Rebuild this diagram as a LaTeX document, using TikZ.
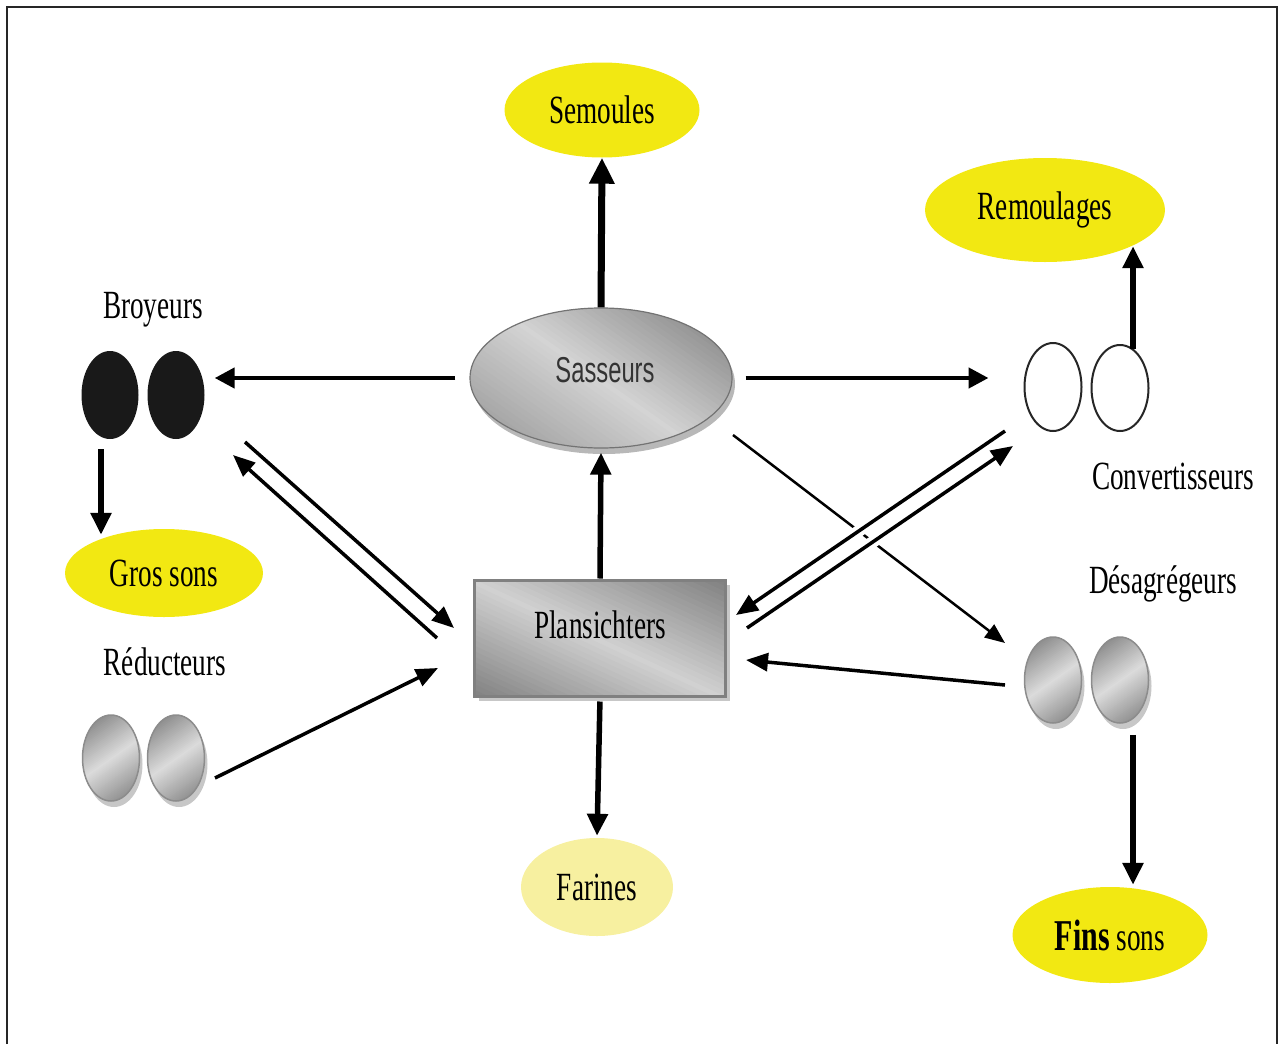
\documentclass[tikz,border=0pt]{standalone}
\usepackage{fontspec}
\setmainfont{Liberation Serif}[FakeStretch=0.68]
\newfontfamily\sasfont{Liberation Sans}[FakeStretch=0.66]
\usetikzlibrary{shapes.geometric,arrows.meta,calc}
\definecolor{ysun}{RGB}{242,232,18}
\definecolor{ypale}{RGB}{247,240,160}
% gradient strips: cx cy angle halfsize c0 cmid c1 (percent black)
\newcommand\gradstrips[7]{%
  \begin{scope}[shift={(#1,#2)}, rotate=#3]
  \foreach \k in {0,...,59}{
    \pgfmathsetmacro\gp{\k<30 ? #5+(#6-#5)*(\k/30) : #6+(#7-#6)*((\k-30)/29)}
    \pgfmathsetmacro\ya{-#4+(\k/60)*2*#4}
    \pgfmathsetmacro\yb{-#4+((\k+1)/60)*2*#4+2.5}
    \fill[black!\gp] (-#4,\ya) rectangle (#4,\yb);
  }
  \end{scope}}
\newcommand\grayroller[3]{%
  \fill[black!22] ({#2+3},{#3+6}) ellipse [x radius=28.5, y radius=43];
  \begin{scope}
    \clip (#2,#3) ellipse [x radius=28.5, y radius=43];
    \gradstrips{#2}{#3}{35}{50}{52}{14}{50}
  \end{scope}
  \node[roll, minimum height=86pt, draw=black!45, line width=1.5pt] (#1) at (#2,#3) {};}
\begin{document}
\begin{tikzpicture}[x=1pt,y=-1pt,
  font=\fontsize{40}{44}\selectfont,
  yel/.style={ellipse, fill=ysun, inner sep=0pt},
  roll/.style={ellipse, minimum width=57pt, minimum height=88pt, inner sep=0pt},
  blackroll/.style={roll, fill=black!90},
  whiteroll/.style={roll, draw=black!85, line width=2pt, fill=white},
  lab/.style={inner sep=0pt},
  bigarr/.style={line width=7pt, -{Triangle[length=26pt,width=24pt]}},
  varr/.style={line width=5.5pt, -{Triangle[length=22pt,width=20pt]}},
  harr/.style={line width=4.5pt, -{Triangle[length=20pt,width=20pt]}},
  darr/.style={line width=3.5pt, -{Triangle[length=22pt,width=18pt]}},
  tarr/.style={line width=2.5pt, -{Triangle[length=20pt,width=16pt]}}
]
\useasboundingbox (0,0) rectangle (1279,1044);
\draw[line width=2pt, black!85] (7,1044) -- (7,7) -- (1277,7) -- (1277,1044);

% output ellipses
\node[yel, minimum width=195pt, minimum height=95pt] (semo) at (602,110) {Semoules};
\node[yel, minimum width=240pt, minimum height=104pt] (remo) at (1045,210) {Remoulages};
\node[yel, minimum width=198pt, minimum height=88pt] (gros) at (164,573) {Gros sons};
\node[yel, fill=ypale, minimum width=152pt, minimum height=98pt] (fari) at (597,887) {Farines};
\node[yel, minimum width=195pt, minimum height=96pt] (fins) at (1110,935) {{\bfseries\fontsize{44}{46}\selectfont Fins} sons};

% Sasseurs (shadow, gradient, border)
\fill[black!28] (604,384) ellipse [x radius=131, y radius=70];
\begin{scope}
  \clip (601,378) ellipse [x radius=131, y radius=70];
  \gradstrips{601}{378}{-35}{150}{55}{17}{45}
\end{scope}
\node[ellipse, minimum width=262pt, minimum height=140pt, inner sep=0pt, draw=black!55, line width=1.2pt] (sass) at (601,378) {};
\node[lab, text=black!80, font=\sasfont\fontsize{36}{40}\selectfont] (sasst) at (605,370) {Sasseurs};

% Plansichters (shadow, gradient, border)
\fill[black!22] (479,585) rectangle (730,701);
\begin{scope}
  \clip (475,580) rectangle (726,696);
  \gradstrips{600}{638}{-25}{150}{62}{18}{62}
\end{scope}
\node[rectangle, minimum width=251pt, minimum height=116pt, inner sep=0pt, draw=black!50, line width=3pt] (plan) at (600,638) {};
\node[lab] (plant) at (600,625) {Plansichters};

% rollers
\node[blackroll] (br1) at (110,395) {};
\node[blackroll] (br2) at (176,395) {};
\grayroller{rd1}{111}{758}
\grayroller{rd2}{176}{758}
\node[whiteroll, minimum height=88pt] (cv1) at (1053,387) {};
\node[whiteroll, minimum height=86pt] (cv2) at (1120,388) {};
\grayroller{ds1}{1053}{680}
\grayroller{ds2}{1120}{680}

% labels
\node[lab] (brl) at (153,310) {Broyeurs};
\node[lab] (rdl) at (165,662) {Réducteurs};
\node[lab] (cvl) at (1173,476) {Convertisseurs};
\node[lab] (dsl) at (1163,584) {Désagrégeurs};

% vertical arrows
\draw[bigarr] (sass.north) -- (semo.south);
\draw[varr, shorten >=4pt] (plan.north) -- (sass.south);
\draw[varr, shorten <=4pt, shorten >=2pt] (plan.south) -- (fari.north);
\coordinate (c2top) at ($(cv2.north)+(13,5)$);
\draw[varr, shorten >=-16pt] (c2top) -- (c2top |- remo.south);
\coordinate (b1bot) at ($(br1.south)+(-9,10)$);
\draw[varr, shorten >=-6pt] (b1bot) -- (b1bot |- gros.north);
\coordinate (d2bot) at ($(ds2.south)+(13,11)$);
\draw[varr, shorten >=2pt] (d2bot) -- (d2bot |- fins.north);

% horizontal arrows
\draw[harr, shorten <=14pt, shorten >=10pt] (sass.west) -- (sass.west -| br2.east);
\draw[harr, shorten <=13pt, shorten >=35pt] (sass.east) -- (sass.east -| cv1.west);

% thin crossing line (drawn first, broken by halos)
\draw[tarr] ($(sass)+(132,57)$) -- ($(ds1)+(-48,-37)$);

% converters <-> plansichters with white halos
\draw[white, line width=12pt] ($(cv1)+(-48,44)$) -- ($(plan.east)+(9,-23)$);
\draw[white, line width=12pt] ($(plan.east)+(20,-10)$) -- ($(cv1)+(-40,59)$);
\draw[darr] ($(cv1)+(-48,44)$) -- ($(plan.east)+(9,-23)$);
\draw[darr] ($(plan.east)+(20,-10)$) -- ($(cv1)+(-40,59)$);

% broyeurs <-> plansichters
\draw[darr] ($(br2)+(69,47)$) -- ($(plan.west)+(-19,-10)$);
\draw[darr] ($(plan.west)+(-36,0)$) -- ($(br2)+(57,60)$);

% reducteurs -> plansichters
\draw[darr] ($(rd2)+(39,20)$) -- ($(plan.west)+(-35,30)$);

% desagregeurs -> plansichters
\draw[darr] ($(ds1)+(-48,5)$) -- ($(plan.east)+(19,22)$);
\end{tikzpicture}
\end{document}
